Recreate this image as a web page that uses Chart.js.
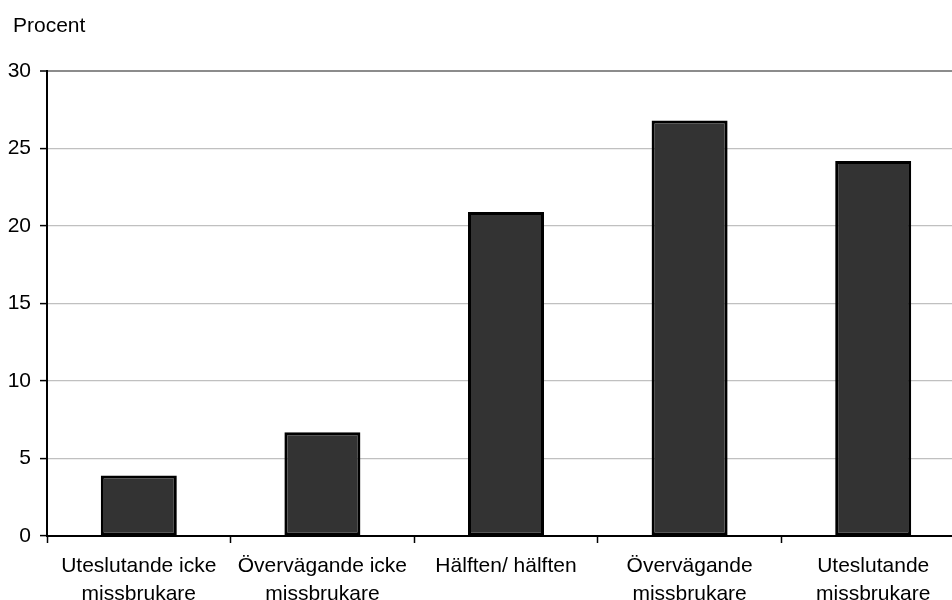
<!DOCTYPE html>
<html lang="sv">
<head>
  <meta charset="UTF-8" />
  <title>Procent</title>
  <script src="https://cdn.jsdelivr.net/npm/chart.js"></script>
  <style>
    html, body { margin: 0; padding: 0; background: #fff; overflow: hidden; }
    #wrap { position: relative; width: 980px; height: 600px; }
  </style>
</head>
<body>
  <div id="wrap">
    <canvas id="chart"></canvas>
  </div>

  <script>
    // Kategorier (två rader per etikett) och andel i procent
    const categories = [
      ['Uteslutande icke', 'missbrukare'],
      ['Övervägande icke', 'missbrukare'],
      'Hälften/ hälften',
      ['Övervägande', 'missbrukare'],
      ['Uteslutande', 'missbrukare']
    ];
    const values = [3.9, 6.7, 20.9, 26.8, 24.2];
    const yTicks = [0, 5, 10, 15, 20, 25, 30];

    const FONT = { family: '"Liberation Sans", Arial, sans-serif', size: 21, lineHeight: 1.35 };

    Chart.defaults.color = '#000';
    Chart.defaults.font.family = FONT.family;
    Chart.defaults.font.size = FONT.size;

    // Rubriken "Procent" ovanför y-axeln
    const unitLabel = {
      id: 'unitLabel',
      afterDraw(chart) {
        const ctx = chart.ctx;
        ctx.save();
        ctx.font = FONT.size + 'px ' + FONT.family;
        ctx.fillStyle = '#000';
        ctx.textAlign = 'left';
        ctx.textBaseline = 'alphabetic';
        ctx.fillText('Procent', chart.chartArea.left - 34, 31.5);
        ctx.restore();
      }
    };

    new Chart(document.getElementById('chart'), {
      type: 'bar',
      data: {
        labels: categories,
        datasets: [{
          data: values,
          backgroundColor: '#333333',
          borderColor: '#000',
          borderWidth: 3,
          borderSkipped: false,
          barPercentage: 0.414,
          categoryPercentage: 1
        }]
      },
      options: {
        responsive: true,
        maintainAspectRatio: false,
        animation: false,
        layout: { padding: { top: 71, right: 15, left: 0, bottom: 0 } },
        plugins: {
          legend: { display: false },
          tooltip: { enabled: false }
        },
        scales: {
          x: {
            offset: true,
            grid: {
              offset: true,
              drawOnChartArea: false,
              drawTicks: true,
              tickLength: 7,
              tickColor: '#000',
              tickWidth: 1.5
            },
            border: { color: '#000', width: 2 },
            ticks: {
              font: FONT,
              padding: 9,
              maxRotation: 0,
              autoSkip: false
            },
            afterFit(scale) { scale.height = 64; }
          },
          y: {
            min: 0,
            max: 30,
            afterBuildTicks(scale) {
              scale.ticks = yTicks.map(v => ({ value: v }));
            },
            grid: {
              color: ctx => ctx.tick && ctx.tick.value === 30 ? '#8c8c8c' : '#c0c0c0',
              lineWidth: ctx => ctx.tick && ctx.tick.value === 30 ? 2 : 1.2,
              tickLength: 7,
              tickColor: '#000',
              tickWidth: 1.5
            },
            border: { color: '#000', width: 2 },
            ticks: {
              font: { family: FONT.family, size: FONT.size },
              padding: 9
            },
            afterFit(scale) { scale.width = 47; }
          }
        }
      },
      plugins: [unitLabel]
    });
  </script>
</body>
</html>
